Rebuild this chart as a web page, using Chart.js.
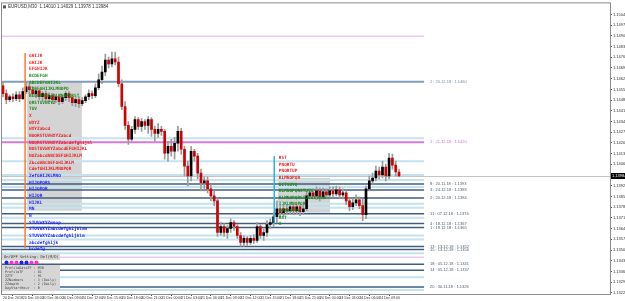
<!DOCTYPE html>
<html>
<head>
<meta charset="utf-8">
<script src="https://cdn.jsdelivr.net/npm/chart.js@4.4.1/dist/chart.umd.min.js"></script>
<style>
  html, body { margin: 0; padding: 0; background: #fff; overflow: hidden; }
</style>
</head>
<body>
<canvas id="chart" width="625" height="301"></canvas>
<script>
// EURUSD M30 bars, 20 Dec - 24 Dec 2018
const symbol = 'EURUSD,M30';

const openP = [1.14574,
  1.14522,1.14483,1.14502,1.14489,1.14515,1.14489,1.14535,1.14567,1.14548,1.14522,
  1.14541,1.14502,1.14522,1.14489,1.14509,1.14483,1.14502,1.14470,1.14496,1.14522,
  1.14496,1.14464,1.14483,1.14457,1.14477,1.14502,1.14522,1.14509,1.14561,1.14613,
  1.14664,1.14742,1.14716,1.14749,1.14729,1.14587,1.14438,1.14315,1.14224,1.14289,
  1.14353,1.14308,1.14340,1.14315,1.14353,1.14289,1.14263,1.14289,1.14276,1.14133,
  1.14178,1.14146,1.14198,1.14276,1.14159,1.14049,1.13984,1.14146,1.14114,1.14003,
  1.13939,1.13952,1.13900,1.13854,1.13822,1.13615,1.13654,1.13615,1.13641,1.13679,
  1.13654,1.13595,1.13550,1.13576,1.13550,1.13576,1.13563,1.13654,1.13595,1.13615,
  1.13667,1.13679,1.13718,1.13770,1.13744,1.13770,1.13757,1.13783,1.13757,1.13783,
  1.13751,1.13770,1.13854,1.13874,1.13854,1.13887,1.13848,1.13880,1.13861,1.13887,
  1.13867,1.13893,1.13861,1.13874,1.13822,1.13783,1.13809,1.13829,1.13790,1.13731,
  1.13900,1.13952,1.13971,1.14016,1.13991,1.14042,1.13984,1.14101,1.14055,1.14010];

const highP = [
  1.14600,1.14548,1.14515,1.14522,1.14535,1.14535,1.14561,1.14600,1.14587,1.14567,
  1.14561,1.14554,1.14535,1.14541,1.14528,1.14522,1.14515,1.14515,1.14509,1.14535,
  1.14535,1.14509,1.14496,1.14502,1.14496,1.14515,1.14548,1.14541,1.14587,1.14651,
  1.14703,1.14781,1.14762,1.14794,1.14794,1.14762,1.14613,1.14470,1.14340,1.14308,
  1.14373,1.14366,1.14360,1.14353,1.14373,1.14366,1.14308,1.14327,1.14308,1.14289,
  1.14211,1.14224,1.14237,1.14308,1.14295,1.14178,1.14081,1.14178,1.14159,1.14133,
  1.14029,1.13978,1.13978,1.13926,1.13887,1.13835,1.13679,1.13673,1.13660,1.13705,
  1.13692,1.13667,1.13615,1.13595,1.13589,1.13595,1.13602,1.13679,1.13667,1.13641,
  1.13692,1.13705,1.13744,1.13822,1.13790,1.13796,1.13796,1.13809,1.13803,1.13803,
  1.13803,1.13796,1.13887,1.13900,1.13900,1.13913,1.13906,1.13906,1.13900,1.13913,
  1.13913,1.13919,1.13913,1.13900,1.13887,1.13841,1.13835,1.13861,1.13848,1.13835,
  1.13919,1.13984,1.14003,1.14049,1.14042,1.14081,1.14062,1.14133,1.14127,1.14081,1.14029];

const lowP = [
  1.14502,1.14457,1.14470,1.14470,1.14477,1.14470,1.14483,1.14522,1.14522,1.14502,
  1.14496,1.14483,1.14477,1.14470,1.14470,1.14457,1.14464,1.14451,1.14457,1.14477,
  1.14470,1.14444,1.14438,1.14431,1.14444,1.14464,1.14483,1.14489,1.14496,1.14548,
  1.14587,1.14639,1.14690,1.14697,1.14710,1.14567,1.14418,1.14289,1.14191,1.14211,
  1.14263,1.14289,1.14276,1.14289,1.14263,1.14243,1.14211,1.14237,1.14250,1.14094,
  1.14081,1.14114,1.14094,1.14146,1.14127,1.13984,1.13919,1.13952,1.14081,1.13965,
  1.13887,1.13887,1.13874,1.13822,1.13790,1.13589,1.13595,1.13589,1.13576,1.13615,
  1.13628,1.13576,1.13524,1.13524,1.13530,1.13537,1.13543,1.13550,1.13576,1.13563,
  1.13589,1.13641,1.13654,1.13679,1.13718,1.13718,1.13731,1.13738,1.13731,1.13738,
  1.13725,1.13731,1.13757,1.13835,1.13835,1.13829,1.13822,1.13835,1.13841,1.13848,
  1.13848,1.13854,1.13841,1.13835,1.13796,1.13757,1.13764,1.13790,1.13770,1.13692,
  1.13705,1.13887,1.13926,1.13952,1.13965,1.13971,1.13952,1.13965,1.14029,1.13984,1.13978];

const closeP = [
  1.14522,1.14483,1.14502,1.14489,1.14515,1.14489,1.14535,1.14567,1.14548,1.14522,
  1.14541,1.14502,1.14522,1.14489,1.14509,1.14483,1.14502,1.14470,1.14496,1.14522,
  1.14496,1.14464,1.14483,1.14457,1.14477,1.14502,1.14522,1.14509,1.14561,1.14613,
  1.14664,1.14742,1.14716,1.14749,1.14729,1.14587,1.14438,1.14315,1.14224,1.14289,
  1.14353,1.14308,1.14340,1.14315,1.14353,1.14289,1.14263,1.14289,1.14276,1.14133,
  1.14178,1.14146,1.14198,1.14276,1.14159,1.14049,1.13984,1.14146,1.14114,1.14003,
  1.13939,1.13952,1.13900,1.13854,1.13822,1.13615,1.13654,1.13615,1.13641,1.13679,
  1.13654,1.13595,1.13550,1.13576,1.13550,1.13576,1.13563,1.13654,1.13595,1.13615,
  1.13667,1.13679,1.13718,1.13770,1.13744,1.13770,1.13757,1.13783,1.13757,1.13783,
  1.13751,1.13770,1.13854,1.13874,1.13854,1.13887,1.13848,1.13880,1.13861,1.13887,
  1.13867,1.13893,1.13861,1.13874,1.13822,1.13783,1.13809,1.13829,1.13790,1.13731,
  1.13900,1.13952,1.13971,1.14016,1.13991,1.14042,1.13984,1.14101,1.14055,1.14010,1.13984];

// time axis
const xTickIdx = [0,6,12,18,24,30,36,42,48,54,60,66,72,78,84,90,96,102,108,114];
const xTickLabels = ['20 Dec 2018','20 Dec 03:00','20 Dec 06:00','20 Dec 09:00','20 Dec 12:00',
  '20 Dec 15:00','20 Dec 18:00','20 Dec 21:00','21 Dec 00:00','21 Dec 03:00','21 Dec 06:00',
  '21 Dec 09:00','21 Dec 12:00','21 Dec 15:00','21 Dec 18:00','21 Dec 21:00','24 Dec 00:00',
  '24 Dec 03:00','24 Dec 06:00','24 Dec 09:00'];

// price axis
const yTickVals = [1.1504,1.1497,1.1490,1.1483,1.1476,1.1469,1.1462,1.1455,1.1448,1.1441,
  1.1434,1.1427,1.1420,1.1413,1.1406,1.1399,1.1392,1.1385,1.1378,1.1371,1.1364,1.1357,
  1.1350,1.1343,1.1336,1.1329,1.1322];

// horizontal levels
const levelPrices = [1.14898,1.14600,1.14230,1.14204,1.14081,1.13991,1.13958,1.13932,1.13913,1.13893,
  1.13841,1.13803,1.13777,1.13738,1.13712,1.13673,1.13647,1.13595,1.13569,1.13524,
  1.13504,1.13479,1.13453,1.13407,1.13368,1.13323,1.13258,1.13239];
const levelKinds = ['pink','steel','light','magenta','light','light','light','dark','light','dark',
  'dark','light','light','dark','light','dark','dark','light','light','dark',
  'dark','light','pink','dark','dark','light','dark','light'];
const levelTags = ['','2 : 20.12.18','','1 : 21.12.18','','','','8 : 20.11.18','','3 : 24.12.18',
  '2 : 20.12.18','','','11 : 07.12.18','','4 : 18.12.18','1 : 18.12.18','','','13 : 13.12.18',
  '15 : 13.12.18','','','18 : 05.12.18','14 : 05.12.18','','20 : 30.11.18',''];

// text notes
const leftNotes = ['GHIJK','GHIJK','EFGHIJK','BCDEFGH','ABCDEFGHIJKL','CDEFGHIJKLMNOPQ',
  'BCDEFGHIJKLMNOPQRST','QRSTUVWXYZ','TUV','X','WXYZ','WXYZabcd','NOQRSTUVWXYZabcd',
  'NOQRSTUVWXYZabcdefghijkl','NOSTUVWXYZabcdEFGHIJKL','NOZabcdABCDEFGHIJKLM','ZbcdABCDEFGHIJKLM',
  'CdefGHIJKLMNOPQR','ZefGHIJKLMNO','HIJOPQRS','HIJOPQR','HIJQR','HIJKL','MN','N',
  'STUVWXYZmnop','STUVWXYZabcdefghijklmn','STUVWXYZabcdefghijklm','abcdefghijk','bcdefg'];
const leftKinds = ['r','r','r','g','g','g','g','g','g','r','r','r','r','r','r','r','r','r',
  'b','b','b','b','b','b','b','b','b','b','b','b'];
const rightNotes = ['RST','PNQRTU','PNQRTUP','KLMNOPQR','UCTSUYQ','KLMNOPQRSTUVW',
  'KLMNOPQRSTUVWXYZab','IJKLMNOPQR','OPQRSTUV','RST','A'];
const rightKinds = ['r','r','r','r','g','g','g','g','g','g','g'];

const panelTitle = 'On/OFF Setting: Del(M/D)';
const panelDots = ['b','m','m','b','b','m','m'];
const panelLines = ['ProfileDataTF : M30','ProfileTF     : D1','ZZTF          : H1',
  'ZZNumbers     : 3 (Daily)','ZZdepth       : 2 (Daily)','DayStartHour  : 0'];

const TXT = { r: '#f01e1e', g: '#1d8a1d', b: '#1e1eff', m: '#ff2fc8' };
const LEVEL = {
  light:   { c: '#c4e3ef', w: 2 },
  dark:    { c: '#3f5f80', w: 1.5 },
  steel:   { c: '#7f9dbc', w: 2 },
  magenta: { c: '#d678dc', w: 2 },
  pink:    { c: '#eccaf0', w: 1.5 }
};

const last = closeP.length - 1;

const overlay = {
  id: 'overlay',
  beforeDatasetsDraw(chart) {
    const { ctx, chartArea: a, scales: { x, y } } = chart;
    ctx.save();
    ctx.beginPath();
    ctx.rect(a.left, a.top, a.width, a.height);
    ctx.clip();

    // grey boxes behind the notes
    ctx.fillStyle = '#d4d4d4';
    const box = (i0, i1, p0, p1) => {
      const x0 = x.getPixelForValue(i0), x1 = x.getPixelForValue(i1);
      const y0 = y.getPixelForValue(p0), y1 = y.getPixelForValue(p1);
      ctx.fillRect(x0, y0, x1 - x0, y1 - y0);
    };
    box(7.3, 23.9, 1.14600, 1.13757);
    box(83.3, 99.1, 1.13971, 1.13744);

    // bid line
    const by = Math.round(y.getPixelForValue(closeP[last])) + 0.5;
    ctx.strokeStyle = '#c4c4c4';
    ctx.lineWidth = 1;
    ctx.beginPath(); ctx.moveTo(a.left, by); ctx.lineTo(a.right, by); ctx.stroke();

    // levels
    const xEnd = x.getPixelForValue(127.6);
    const xTag = x.getPixelForValue(129.4);
    ctx.font = '4px "Liberation Sans"';
    ctx.textBaseline = 'middle';
    levelPrices.forEach((p, i) => {
      const s = LEVEL[levelKinds[i]];
      const py = y.getPixelForValue(p);
      ctx.strokeStyle = s.c;
      ctx.lineWidth = s.w;
      ctx.beginPath(); ctx.moveTo(a.left, py); ctx.lineTo(xEnd, py); ctx.stroke();
      if (levelTags[i]) {
        ctx.fillStyle = levelKinds[i] === 'magenta' ? '#d070d8' : (levelKinds[i] === 'steel' ? '#6f8cab' : '#4a5d70');
        ctx.fillText(levelTags[i] + ' : ' + p.toFixed(4), xTag, py);
      }
    });
    ctx.restore();
  },
  afterDatasetsDraw(chart) {
    const { ctx, chartArea: a, scales: { x, y } } = chart;
    ctx.save();

    // vertical markers
    ctx.lineWidth = 1.5;
    ctx.strokeStyle = '#ff7a30';
    let vx = x.getPixelForValue(6.7);
    ctx.beginPath(); ctx.moveTo(vx, y.getPixelForValue(1.14788)); ctx.lineTo(vx, y.getPixelForValue(1.13511)); ctx.stroke();
    ctx.strokeStyle = '#2ab0f0';
    vx = x.getPixelForValue(82.2);
    ctx.beginPath(); ctx.moveTo(vx, y.getPixelForValue(1.14114)); ctx.lineTo(vx, y.getPixelForValue(1.13673)); ctx.stroke();

    // note text
    ctx.font = 'bold 4.4px "DejaVu Sans Mono"';
    ctx.textBaseline = 'middle';
    ctx.textAlign = 'left';
    let tx = x.getPixelForValue(7.9), ty = y.getPixelForValue(1.14768);
    leftNotes.forEach((t, i) => { ctx.fillStyle = TXT[leftKinds[i]]; ctx.fillText(t, tx, ty + i * 6.655); });
    tx = x.getPixelForValue(83.6); ty = y.getPixelForValue(1.14101);
    rightNotes.forEach((t, i) => { ctx.fillStyle = TXT[rightKinds[i]]; ctx.fillText(t, tx, ty + i * 6.6); });

    // settings panel (anchored to lower-left corner)
    const px = a.left, pb = a.bottom;
    ctx.fillStyle = '#d6d6d6';
    ctx.fillRect(px, pb - 40, 58, 6);
    ctx.fillStyle = '#333';
    ctx.font = '3.8px "DejaVu Sans Mono"';
    ctx.fillText(panelTitle, px + 2, pb - 37);
    panelDots.forEach((k, i) => {
      ctx.fillStyle = TXT[k];
      ctx.beginPath(); ctx.arc(px + 4.5 + i * 5, pb - 31.5, 2, 0, Math.PI * 2); ctx.fill();
    });
    ctx.fillStyle = '#d6d6d6';
    ctx.fillRect(px, pb - 29, 58, 26);
    ctx.fillStyle = '#444';
    ctx.font = '3.4px "DejaVu Sans Mono"';
    panelLines.forEach((t, i) => ctx.fillText(t, px + 3, pb - 26 + i * 4));

    ctx.restore();
  },
  afterDraw(chart) {
    const { ctx, chartArea: a, scales: { y } } = chart;
    ctx.save();
    // frame
    ctx.strokeStyle = '#8c8c8c';
    ctx.lineWidth = 1;
    ctx.strokeRect(a.left - 0.5, a.top - 0.5, a.width + 1, a.height + 1);
    // title
    ctx.fillStyle = '#555';
    ctx.fillRect(a.left + 1, a.top + 2, 3, 3);
    ctx.fillStyle = '#333';
    ctx.font = '4.5px "Liberation Sans"';
    ctx.textBaseline = 'middle';
    ctx.fillText(symbol + '  ' + openP[last].toFixed(5) + ' ' + highP[last].toFixed(5) + ' ' +
      lowP[last].toFixed(5) + ' ' + closeP[last].toFixed(5), a.left + 6, a.top + 3.5);
    // current price tag
    const py = y.getPixelForValue(closeP[last]);
    ctx.fillStyle = '#000';
    ctx.fillRect(a.right + 1, py - 3, 15, 6);
    ctx.fillStyle = '#fff';
    ctx.font = '4px "Liberation Sans"';
    ctx.fillText(closeP[last].toFixed(5), a.right + 2, py);
    ctx.restore();
  }
};

const wickData = closeP.map((c, i) => ({ x: i, y: [lowP[i], highP[i]] }));
const bodyData = closeP.map((c, i) => ({ x: i, y: [openP[i], c] }));
const bodyColors = closeP.map((c, i) => (c >= openP[i] ? '#000000' : '#d20000'));

new Chart(document.getElementById('chart'), {
  type: 'bar',
  data: {
    datasets: [
      { data: wickData, backgroundColor: '#9a9a9a', barThickness: 1, grouped: false, order: 2 },
      { data: bodyData, backgroundColor: bodyColors, barThickness: 2, grouped: false, order: 1 }
    ]
  },
  options: {
    responsive: false,
    animation: false,
    devicePixelRatio: 1,
    layout: { padding: { left: 2, top: 1, right: 0, bottom: 0 } },
    plugins: { legend: { display: false }, tooltip: { enabled: false } },
    scales: {
      x: {
        type: 'linear', min: -0.3, max: 183.94, offset: false,
        grid: { display: true, drawOnChartArea: false, tickLength: 2, color: '#555' },
        border: { display: false },
        afterFit(s) { s.height = 7; },
        afterBuildTicks(s) { s.ticks = xTickIdx.map(v => ({ value: v })); },
        ticks: {
          autoSkip: false, maxRotation: 0, minRotation: 0, align: 'start', padding: 0,
          color: '#333', font: { size: 3.5, family: 'Liberation Sans' },
          callback: (v, i) => xTickLabels[i]
        }
      },
      y: {
        position: 'right', min: 1.13213, max: 1.15112,
        grid: { display: true, drawOnChartArea: false, tickLength: 2, color: '#555' },
        border: { display: false },
        afterFit(s) { s.width = 15; },
        afterBuildTicks(s) { s.ticks = yTickVals.map(v => ({ value: v })); },
        ticks: {
          padding: 1, color: '#333', font: { size: 4, family: 'Liberation Sans' },
          callback: v => v.toFixed(4)
        }
      }
    }
  },
  plugins: [overlay]
});
</script>
</body>
</html>
